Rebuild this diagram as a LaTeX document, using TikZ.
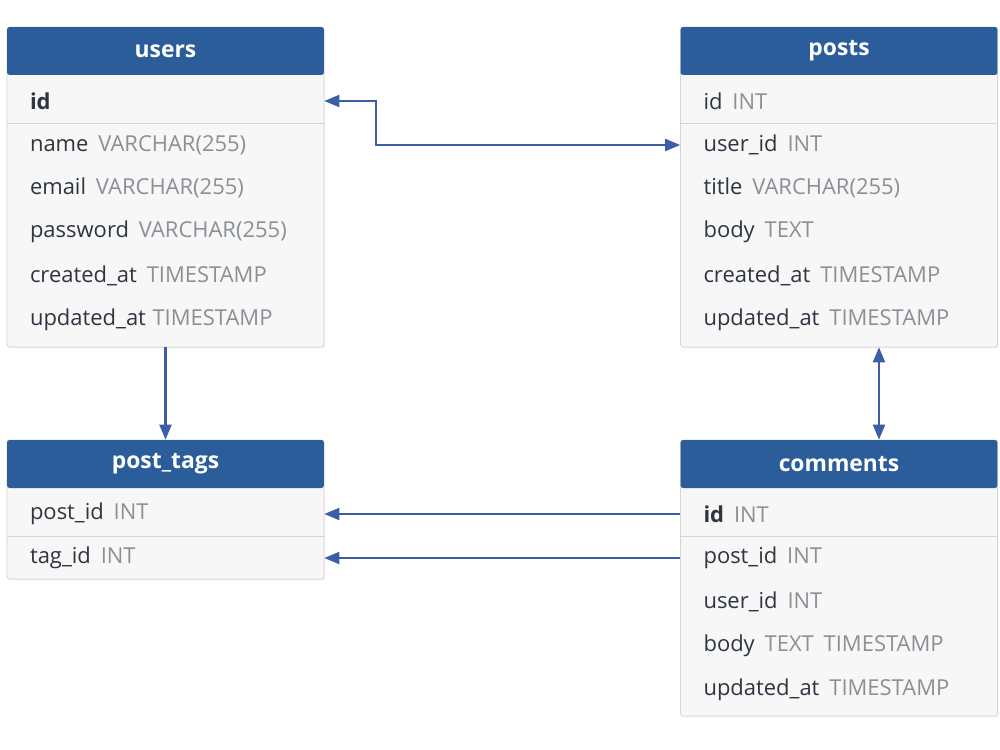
\documentclass[tikz,border=0pt]{standalone}
\usepackage{fontspec}
\setmainfont{Open Sans}
\usetikzlibrary{arrows.meta,shadows}

\definecolor{headblue}{HTML}{2B5D9B}
\definecolor{linkblue}{HTML}{3C5DA8}
\definecolor{rowfill}{HTML}{F7F7F7}
\definecolor{rowline}{HTML}{D3D5D8}
\definecolor{namecol}{HTML}{2E3540}
\definecolor{typecol}{HTML}{8B9097}

\newcommand{\fld}[2]{#1\hspace{0.45em}{\color{typecol}#2}}

\tikzset{
  tablebody/.style={draw=rowline, fill=rowfill, rounded corners=1.5pt, minimum width=6.34cm, inner sep=0pt,
    drop shadow={opacity=0.10, shadow xshift=0.02cm, shadow yshift=-0.03cm}},
  tablehead/.style={fill=headblue, text=white, font=\bfseries\fontsize{13}{15}\selectfont,
    minimum width=6.34cm, minimum height=0.96cm, inner sep=0pt, rounded corners=1.5pt},
  field/.style={text width=5.42cm, inner xsep=0.46cm, inner ysep=0pt, minimum height=0.88cm,
    align=left, text=namecol, font=\fontsize{12.5}{14}\selectfont},
  sepline/.style={draw=rowline, line width=0.6pt},
  fk/.style={draw=linkblue, line width=1.2pt},
  >={Triangle[length=0.3cm,width=0.24cm]}
}

\begin{document}
\begin{tikzpicture}[x=0.02cm, y=-0.02cm]

    \useasboundingbox[fill=white] (0,0) rectangle (1000,750);

    % users
    \node[tablebody, minimum height=6.4cm] (users) at (165.5,187) {};
    \node[tablehead] (usershead) at (165.5,51) {users};
    \node[field] (uid) at (165.5,101) {\textbf{id}};
    \node[field] (uname) at (165.5,145) {\fld{name}{VARCHAR(255)}};
    \node[field] (uemail) at (165.5,188) {\fld{email}{VARCHAR(255)}};
    \node[field] (upass) at (165.5,232) {\fld{password}{VARCHAR(255)}};
    \node[field] (ucreated) at (165.5,276) {\fld{created\_at}{TIMESTAMP}};
    \node[field] (uupdated) at (165.5,320) {updated\_at\hspace{0.3em}{\color{typecol}TIMESTAMP}};
    \draw[sepline] (uid.south west) -- (uid.south east);

    % posts
    \node[tablebody, minimum height=6.4cm] (posts) at (839,187) {};
    \node[tablehead] (postshead) at (839,51) {posts};
    \node[field] (pid) at (839,101) {\fld{id}{INT}};
    \node[field] (puserid) at (839,145) {\fld{user\_id}{INT}};
    \node[field] (ptitle) at (839,188) {\fld{title}{VARCHAR(255)}};
    \node[field] (pbody) at (839,232) {\fld{body}{TEXT}};
    \node[field] (pcreated) at (839,276) {\fld{created\_at}{TIMESTAMP}};
    \node[field] (pupdated) at (839,320) {\fld{updated\_at}{TIMESTAMP}};
    \draw[sepline] (pid.south west) -- (pid.south east);

    % post_tags
    \node[tablebody, minimum height=2.78cm] (posttags) at (165.5,509.5) {};
    \node[tablehead] (posttagshead) at (165.5,464) {post\_tags};
    \node[field] (tpostid) at (165.5,514) {\fld{post\_id}{INT}};
    \node[field] (ttagid) at (165.5,558) {\fld{tag\_id}{INT}};
    \draw[sepline] (tpostid.south west) -- (tpostid.south east);

    % comments
    \node[tablebody, minimum height=5.52cm] (comments) at (839,578) {};
    \node[tablehead] (commentshead) at (839,464) {comments};
    \node[field] (cid) at (839,514) {\fld{\textbf{id}}{INT}};
    \node[field] (cpostid) at (839,558) {\fld{post\_id}{INT}};
    \node[field] (cuserid) at (839,602) {\fld{user\_id}{INT}};
    \node[field] (cbody) at (839,646) {\fld{body}{TEXT\hspace{0.45em}TIMESTAMP}};
    \node[field] (cupdated) at (839,690) {\fld{updated\_at}{TIMESTAMP}};
    \draw[sepline] (cid.south west) -- (cid.south east);

    % Arrows
    \draw[fk, <->] (uid.east) -- ++(52,0) |- (puserid.west);
    \draw[fk, ->] (users.south) -- (posttagshead.north);
    \draw[fk, <->] ([xshift=0.8cm]posts.south) -- ([xshift=0.8cm]commentshead.north);
    \draw[fk, ->] (cid.west) -- (tpostid.east);
    \draw[fk, ->] (cpostid.west) -- (ttagid.east);
\end{tikzpicture}
\end{document}
